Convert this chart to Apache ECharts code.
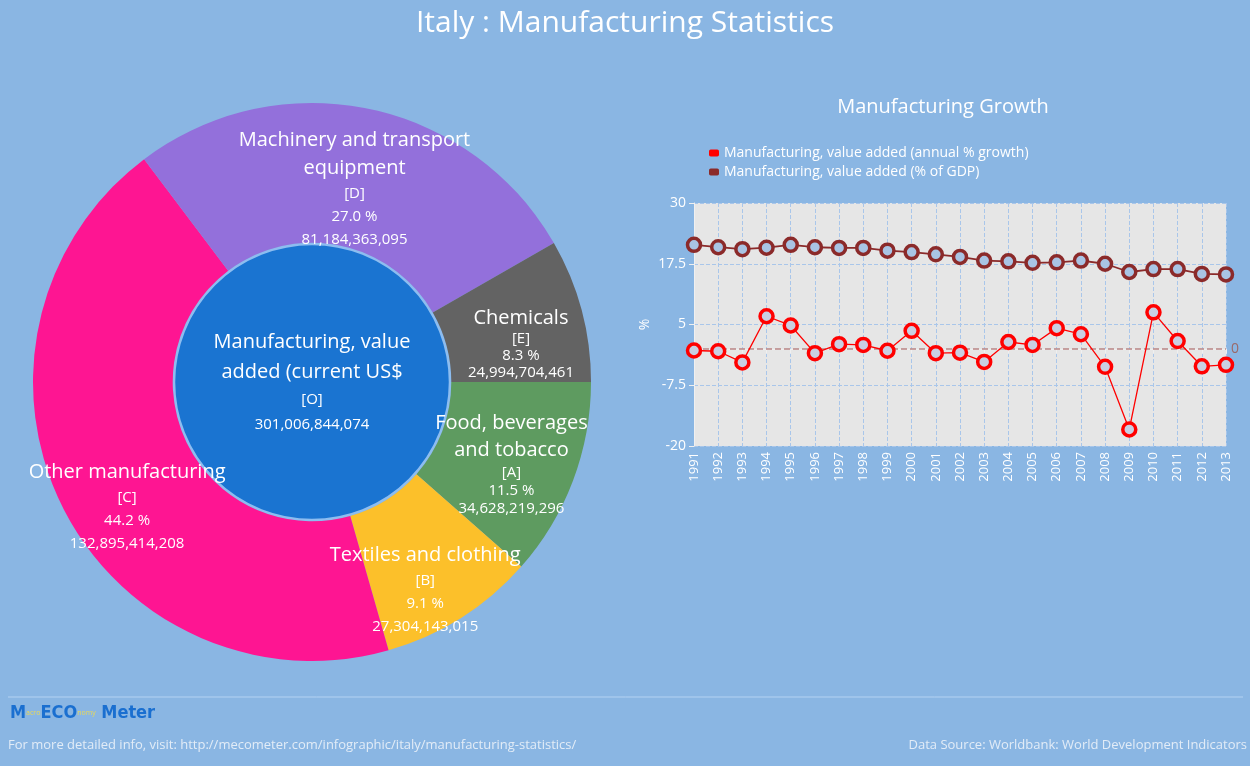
<!DOCTYPE html>
<html>
<head>
<meta charset="utf-8">
<script src="https://cdn.jsdelivr.net/npm/echarts@6/dist/echarts.min.js"></script>
<style>
html,body{margin:0;padding:0;background:#8ab6e3;}
#c{width:1250px;height:766px;}
</style>
</head>
<body>
<div id="c"></div>
<script>
// ---- Data ----
var sectorNames = ["Food, beverages and tobacco", "Textiles and clothing", "Other manufacturing", "Machinery and transport equipment", "Chemicals"];
var sectorLabelNames = ["Food, beverages\nand tobacco", "Textiles and clothing", "Other manufacturing", "Machinery and transport\nequipment", "Chemicals"];
var sectorCodes = ["A", "B", "C", "D", "E"];
var sectorValues = [34628219296, 27304143015, 132895414208, 81184363095, 24994704461];
var totalName = "Manufacturing, value\nadded (current US$";
var totalCode = "O";
var totalValue = 301006844074;

var years = ["1991","1992","1993","1994","1995","1996","1997","1998","1999","2000","2001","2002","2003","2004","2005","2006","2007","2008","2009","2010","2011","2012","2013"];
var growth = [-0.35,-0.5,-2.8,6.7,4.8,-0.9,0.95,0.8,-0.4,3.7,-0.9,-0.8,-2.7,1.4,0.8,4.25,3.0,-3.7,-16.6,7.5,1.6,-3.6,-3.3];
var gdpShare = [21.4,20.9,20.5,20.8,21.4,20.9,20.75,20.75,20.2,19.9,19.45,18.9,18.15,18.0,17.7,17.8,18.15,17.5,15.8,16.4,16.4,15.4,15.3];
var seriesNames = ["Manufacturing, value added (annual % growth)", "Manufacturing, value added (% of GDP)"];

// ---- Styling ----
var FONT = "Open Sans";
var sectorColors = ["#5e9b60", "#fcc02a", "#fe1592", "#9370db", "#636363"];
var labelOffsets = [[1, 7], [0, 28], [5, 30], [0, 15], [4, 17]];
var labelLineHeights = [[27, 18], [28, 23], [28, 23], [28, 23], [22, 17]];

function fmt(n){ return n.toString().replace(/\B(?=(\d{3})+(?!\d))/g, ","); }
var sum = sectorValues.reduce(function(a,b){return a+b;}, 0);

var pieData = sectorValues.map(function(v, i){
  return {
    name: sectorNames[i],
    value: v,
    itemStyle: {color: sectorColors[i]},
    label: {
      offset: labelOffsets[i],
      rich: {
        n: {fontSize: 20, color: '#fff', fontFamily: FONT, lineHeight: labelLineHeights[i][0]},
        c: {fontSize: 15, color: '#fff', fontFamily: FONT, lineHeight: labelLineHeights[i][1]}
      }
    }
  };
});

var chart = echarts.init(document.getElementById('c'));
chart.setOption({
  backgroundColor: '#8ab6e3',
  animation: false,
  textStyle: {fontFamily: FONT},
  title: [
    {text: 'Italy : Manufacturing Statistics', left: 'center', top: 3,
     textStyle: {color: '#fff', fontSize: 30, fontWeight: 'normal', fontFamily: FONT}},
    {text: 'Manufacturing Growth', left: 938, textAlign: 'center', top: 92,
     textStyle: {color: '#fff', fontSize: 20, fontWeight: 'normal', fontFamily: FONT}}
  ],
  legend: {
    orient: 'vertical', left: 704, top: 141, itemWidth: 10, itemHeight: 7, itemGap: 5,
    icon: 'roundRect',
    textStyle: {color: '#fff', fontSize: 14, fontFamily: FONT},
    data: [
      {name: seriesNames[0], itemStyle: {color: '#ff0000', borderWidth: 0}},
      {name: seriesNames[1], itemStyle: {color: '#8b2a2a', borderWidth: 0}}
    ]
  },
  grid: {left: 694, right: 24, top: 203, bottom: 320, show: true, backgroundColor: '#e6e6e6', borderWidth: 0},
  xAxis: {
    type: 'category', data: years, boundaryGap: false,
    axisLine: {lineStyle: {color: '#f0f0f0'}},
    axisTick: {show: true, lineStyle: {color: '#f0f0f0'}},
    axisLabel: {rotate: 90, color: '#fff', fontSize: 13, fontFamily: FONT, margin: 6},
    splitLine: {show: true, lineStyle: {color: '#a9c6ea', type: 'dashed'}}
  },
  yAxis: {
    type: 'value', min: -20, max: 30, interval: 12.5,
    name: '%', nameLocation: 'middle', nameGap: 42, nameRotate: 90,
    nameTextStyle: {color: '#fff', fontSize: 14, fontFamily: FONT},
    axisLine: {show: true, lineStyle: {color: '#f0f0f0'}},
    axisTick: {show: true, lineStyle: {color: '#f0f0f0'}},
    axisLabel: {color: '#fff', fontSize: 14, fontFamily: FONT},
    splitLine: {show: true, lineStyle: {color: '#a9c6ea', type: 'dashed'}}
  },
  series: [
    {
      type: 'pie', name: 'total', center: [312, 382], radius: [0, 138],
      silent: true, startAngle: 90,
      itemStyle: {color: '#1a74d1', borderColor: '#8dbdf0', borderWidth: 2.5},
      label: {
        position: 'center', color: '#fff', fontFamily: FONT,
        formatter: function(){ return '{n|' + totalName.split('\n').join('}\n{n|') + '}\n{c|[' + totalCode + ']}\n{c|' + fmt(totalValue) + '}'; },
        rich: {
          n: {fontSize: 20, color: '#fff', fontFamily: FONT, lineHeight: 30},
          c: {fontSize: 15, color: '#fff', fontFamily: FONT, lineHeight: 25}
        }
      },
      labelLine: {show: false},
      data: [{name: 'total', value: totalValue}],
      z: 1
    },
    {
      type: 'pie', name: 'sectors', center: [312, 382], radius: [139.3, 279],
      startAngle: 0, clockwise: true, silent: true,
      label: {
        position: 'inside', color: '#fff', fontFamily: FONT,
        formatter: function(p){
          var i = p.dataIndex;
          var pct = (sectorValues[i] / sum * 100).toFixed(1);
          return '{n|' + sectorLabelNames[i].split('\n').join('}\n{n|') + '}\n{c|[' + sectorCodes[i] + ']}\n{c|' + pct + ' %}\n{c|' + fmt(sectorValues[i]) + '}';
        }
      },
      labelLine: {show: false},
      data: pieData,
      z: 2
    },
    {
      type: 'line', name: seriesNames[0], data: growth,
      symbol: 'circle', symbolSize: 13,
      lineStyle: {color: '#ff0000', width: 1.3},
      itemStyle: {color: '#c9cfe2', borderColor: '#ff0000', borderWidth: 3.5},
      markLine: {
        silent: true, symbol: 'none',
        lineStyle: {color: '#b98585', type: 'dashed', width: 1.5},
        label: {show: true, position: 'end', formatter: '0', color: '#9a6a6a', fontSize: 14, fontFamily: FONT},
        data: [{yAxis: 0}]
      },
      z: 5
    },
    {
      type: 'line', name: seriesNames[1], data: gdpShare,
      symbol: 'circle', symbolSize: 13,
      lineStyle: {color: '#8b2a2a', width: 1.8},
      itemStyle: {color: '#a9c4e4', borderColor: '#8b2a2a', borderWidth: 3.5},
      z: 4
    }
  ],
  graphic: [
    {type: 'line', shape: {x1: 8, y1: 697, x2: 1243, y2: 697}, style: {stroke: '#b4d2f2', lineWidth: 1}},
    {type: 'text', left: 10, top: 704, style: {
      text: '{b|M}{y|acro}{b|ECO}{y|nomy}{b| Meter}',
      rich: {
        b: {fontSize: 18, fontWeight: 'bold', fill: '#1a6fd0', fontFamily: 'DejaVu Sans Condensed'},
        y: {fontSize: 7, fill: '#e8d85a', fontFamily: FONT}
      }
    }},
    {type: 'text', left: 8, top: 739, style: {text: 'For more detailed info, visit: http://mecometer.com/infographic/italy/manufacturing-statistics/', fill: '#e2ecf7', fontSize: 13, fontFamily: FONT}},
    {type: 'text', right: 3, top: 739, style: {text: 'Data Source: Worldbank: World Development Indicators', fill: '#e2ecf7', fontSize: 13, fontFamily: FONT}}
  ]
});
</script>
</body>
</html>
